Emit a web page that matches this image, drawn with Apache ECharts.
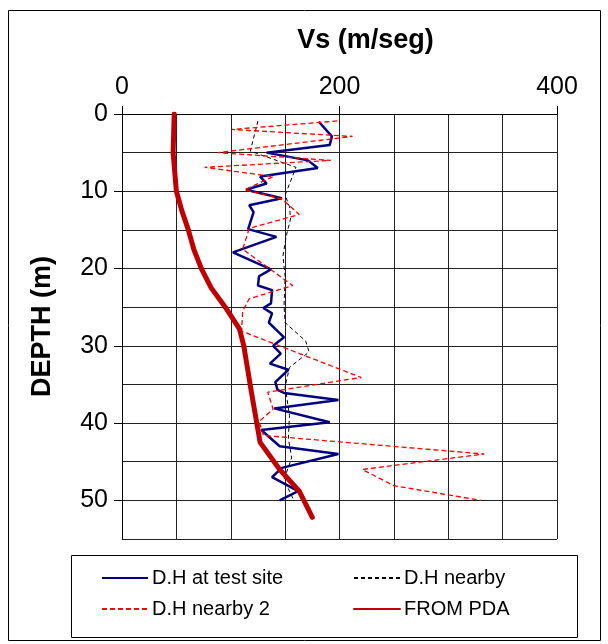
<!DOCTYPE html>
<html>
<head>
<meta charset="utf-8">
<title>Vs vs depth</title>
<script src="https://cdn.jsdelivr.net/npm/echarts@6/dist/echarts.min.js"></script>
<style>
    html, body { margin: 0; padding: 0; background: #fff; }
    #chart { width: 608px; height: 644px; }
</style>
</head>
<body>
<div id="chart"></div>
<script>
// D.H at test site
var testVs    = [181, 193, 191, 133, 171, 180, 127, 133, 114, 147, 117, 121, 116, 142, 102, 137, 126, 125, 138, 137, 130, 138, 135, 149, 139, 146, 136, 153, 141, 143, 149, 199, 140, 191, 128, 145, 199, 147, 138, 162, 145];
var testDepth = [1, 2.9, 4, 5, 6, 7, 8.1, 9, 9.8, 10.9, 11.8, 12.7, 14.9, 15.9, 17.9, 20.1, 21, 22.2, 22.8, 24.5, 25.1, 25.8, 27, 28.9, 30, 31, 32.3, 33.1, 34.7, 35.7, 36.1, 37, 38.1, 39.9, 40.9, 43, 44, 45.8, 47, 48.8, 50];

// D.H nearby
var nearVs    = [125, 118, 160, 150, 154, 155, 151, 148, 150, 149, 150, 169, 172, 154, 150, 154, 153, 156, 149, 158];
var nearDepth = [0.9, 4.8, 6.9, 10.5, 12, 13.6, 15.8, 18.4, 21, 24.8, 27, 29.4, 30.8, 32.8, 35.3, 39, 42, 44.5, 47.3, 50];

// D.H nearby 2
var near2Vs    = [198, 101, 212, 88, 192, 76, 139, 113, 147, 163, 117, 111, 157, 117, 111, 110, 220, 134, 139, 126, 130, 333, 221, 250, 330];
var near2Depth = [0.9, 2, 2.9, 5, 6, 6.9, 8.1, 9.8, 11, 13, 14.8, 17.5, 22.2, 23.9, 25.5, 28.1, 34.1, 36, 38.2, 39.8, 41.6, 44, 46, 48.1, 50];

// FROM PDA
var pdaVs    = [48, 47, 50, 55, 61, 66, 73, 82, 95, 108, 112, 119, 127, 145, 163, 175];
var pdaDepth = [0, 5, 10, 12.5, 15, 17.5, 20, 22.5, 25, 27.8, 30, 36, 42.5, 46, 48.8, 52.2];

var xTicks = [0, 200, 400];
var yTicks = [0, 10, 20, 30, 40, 50];

var FONT = "'Liberation Sans', Arial, sans-serif";

function zip(xs, ys) {
    return xs.map(function (x, i) { return [x, ys[i]]; });
}

var chart = echarts.init(document.getElementById('chart'), null, { renderer: 'canvas' });

// one legend per entry so the two columns line up
function legendAt(name, left, top) {
    return {
        data: [name],
        left: left,
        top: top,
        padding: 0,
        itemWidth: 46,
        itemHeight: 14,
        itemGap: 0,
        selectedMode: false,
        // hide the marker dot, keep the line sample
        itemStyle: { color: 'rgba(0,0,0,0)', borderWidth: 0, opacity: 0 },
        textStyle: { fontFamily: FONT, fontSize: 20, color: '#000', padding: [0, 0, 0, -1] }
    };
}

var option = {
    animation: false,
    backgroundColor: '#fff',
    grid: { left: 122, right: 51, top: 114, bottom: 105, show: false },
    legend: [
        legendAt('D.H at test site', 101, 568),
        legendAt('D.H nearby', 353, 568),
        legendAt('D.H nearby 2', 101, 599),
        legendAt('FROM PDA', 353, 599)
    ],
    xAxis: [
        {   // gridlines
            type: 'value', position: 'top', min: 0, max: 400, interval: 50,
            axisLine: { show: true, lineStyle: { color: '#000', width: 1 } },
            axisTick: { show: false },
            axisLabel: { show: false },
            splitLine: { show: true, lineStyle: { color: '#222', width: 1 } }
        },
        {   // labels
            type: 'value', position: 'top', min: 0, max: 400, interval: 200,
            name: 'Vs (m/seg)', nameLocation: 'middle', nameGap: 60,
            nameTextStyle: { fontFamily: FONT, fontSize: 27, fontWeight: 'bold', color: '#000', padding: [0, 0, 0, 52] },
            axisLine: { show: false },
            axisTick: { show: true, length: 8, customValues: xTicks, lineStyle: { color: '#000' } },
            axisLabel: { fontFamily: FONT, fontSize: 25, color: '#000', margin: 14, customValues: xTicks },
            splitLine: { show: false }
        }
    ],
    yAxis: [
        {   // gridlines
            type: 'value', inverse: true, min: 0, max: 55, interval: 5,
            axisLine: { show: true, lineStyle: { color: '#000', width: 1 } },
            axisTick: { show: false },
            axisLabel: { show: false },
            splitLine: { show: true, lineStyle: { color: '#222', width: 1 } }
        },
        {   // labels
            type: 'value', inverse: true, min: 0, max: 55, interval: 10, position: 'left',
            name: 'DEPTH (m)', nameLocation: 'middle', nameGap: 66, nameRotate: 90,
            nameTextStyle: { fontFamily: FONT, fontSize: 27, fontWeight: 'bold', color: '#000' },
            axisLine: { show: false },
            axisTick: { show: true, length: 8, customValues: yTicks, lineStyle: { color: '#000' } },
            axisLabel: {
                fontFamily: FONT, fontSize: 25, color: '#000', margin: 14, customValues: yTicks,
                formatter: function (v) { return v % 10 === 0 ? v : ''; }
            },
            splitLine: { show: false }
        }
    ],
    series: [
        {
            name: 'D.H at test site', type: 'line', symbol: 'none',
            data: zip(testVs, testDepth),
            lineStyle: { color: '#000080', width: 2.5 },
            itemStyle: { color: '#000080' }
        },
        {
            name: 'D.H nearby', type: 'line', symbol: 'none',
            data: zip(nearVs, nearDepth),
            lineStyle: { color: '#000', width: 1, type: [4, 3] },
            itemStyle: { color: '#000' }
        },
        {
            name: 'D.H nearby 2', type: 'line', symbol: 'none',
            data: zip(near2Vs, near2Depth),
            lineStyle: { color: '#ff0000', width: 1.3, type: [5, 3] },
            itemStyle: { color: '#ff0000' }
        },
        {
            name: 'FROM PDA', type: 'line', symbol: 'none',
            data: zip(pdaVs, pdaDepth),
            lineStyle: { color: '#c00000', width: 5, cap: 'round', join: 'round' },
            itemStyle: { color: '#c00000' }
        }
    ],
    graphic: [
        {   // outer frame
            type: 'rect', silent: true,
            shape: { x: 8.5, y: 10.5, width: 592, height: 630 },
            style: { fill: 'none', stroke: '#000', lineWidth: 1 }
        },
        {   // legend box
            type: 'rect', silent: true,
            shape: { x: 71.5, y: 555.5, width: 506, height: 82 },
            style: { fill: 'none', stroke: '#000', lineWidth: 1 }
        }
    ]
};

chart.setOption(option);
</script>
</body>
</html>
